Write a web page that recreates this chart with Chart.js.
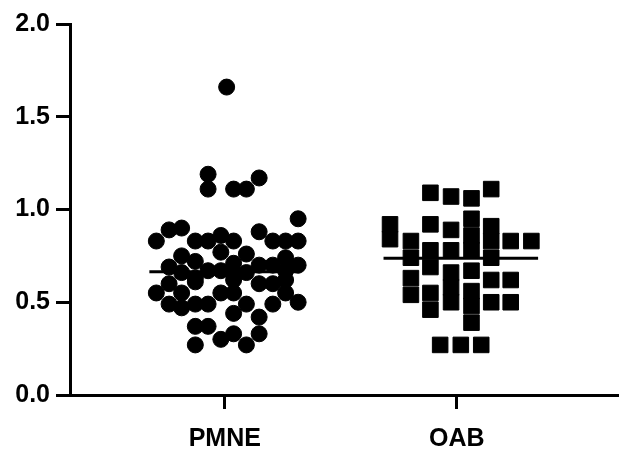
<!DOCTYPE html>
<html>
<head>
<meta charset="utf-8">
<script src="https://cdn.jsdelivr.net/npm/chart.js@4"></script>
<style>
html,body{margin:0;padding:0;background:#fff;}
#wrap{width:629px;height:451px;}
</style>
</head>
<body>
<div id="wrap"><canvas id="c" width="629" height="451"></canvas></div>
<script>
// Categories and tick labels
const categories = ['PMNE', 'OAB'];
const yTicks = [0, 0.5, 1.0, 1.5, 2.0];

// PMNE values and their horizontal scatter offsets (category units)
const pmneValues = [1.66, 1.19, 1.11, 1.17, 1.11, 1.11, 0.95,
  0.83, 0.89, 0.90, 0.83, 0.83, 0.86, 0.83, 0.88, 0.83, 0.83, 0.83,
  0.77, 0.75, 0.72, 0.76, 0.74, 0.69, 0.71, 0.70,
  0.66, 0.63, 0.67, 0.67, 0.66, 0.66, 0.70, 0.70, 0.67,
  0.60, 0.61, 0.62, 0.60, 0.60, 0.62,
  0.55, 0.55, 0.55, 0.55, 0.55,
  0.49, 0.49, 0.49, 0.49, 0.49, 0.50, 0.47,
  0.44, 0.42, 0.37, 0.37, 0.30, 0.33, 0.33, 0.27, 0.27];
const pmneJitter = [0.008, -0.072, -0.072, 0.148, 0.038, 0.093, 0.316,
  -0.295, -0.24, -0.186, -0.127, -0.072, -0.017, 0.038, 0.148, 0.207, 0.262, 0.316,
  -0.017, -0.186, -0.127, 0.093, 0.262, -0.24, 0.038, 0.316,
  -0.186, -0.127, -0.072, -0.017, 0.038, 0.093, 0.148, 0.207, 0.262,
  -0.24, -0.127, 0.038, 0.148, 0.207, 0.262,
  -0.295, -0.186, -0.017, 0.038, 0.262,
  -0.24, -0.127, -0.072, 0.093, 0.207, 0.316, -0.186,
  0.038, 0.148, -0.127, -0.072, -0.017, 0.038, 0.148, -0.127, 0.093];

// OAB values and their horizontal scatter offsets (category units)
const oabValues = [0.92, 0.84,
  0.83, 0.74, 0.63, 0.54,
  1.09, 0.92, 0.78, 0.69, 0.55, 0.46,
  0.27,
  1.07, 0.89, 0.78, 0.66, 0.58, 0.50,
  0.27,
  1.06, 0.95, 0.86, 0.78, 0.67, 0.56, 0.48, 0.39,
  0.27,
  1.11, 0.91, 0.83, 0.74, 0.62, 0.50,
  0.83, 0.62, 0.50,
  0.83];
const oabJitter = [-0.288, -0.288,
  -0.198, -0.198, -0.198, -0.198,
  -0.114, -0.114, -0.114, -0.114, -0.114, -0.114,
  -0.072,
  -0.025, -0.025, -0.025, -0.025, -0.025, -0.025,
  0.017,
  0.063, 0.063, 0.063, 0.063, 0.063, 0.063, 0.063, 0.063,
  0.105,
  0.148, 0.148, 0.148, 0.148, 0.148, 0.148,
  0.232, 0.232, 0.232,
  0.321];

// Medians and the extent of the median bars (category units)
const medians = [0.665, 0.737];
const medianSpan = [[-0.325, 0.325], [-0.316, 0.35]];

const pmnePts = pmneValues.map((v, i) => ({x: 1 + pmneJitter[i], y: v}));
const oabPts = oabValues.map((v, i) => ({x: 2 + oabJitter[i], y: v}));
const medianSets = medians.map((m, i) => ({
  type: 'line',
  data: [{x: i + 1 + medianSpan[i][0], y: m}, {x: i + 1 + medianSpan[i][1], y: m}],
  borderColor: '#000', borderWidth: 3, pointRadius: 0, showLine: true, order: 0
}));

const font = {family: '"Liberation Sans", Arial, sans-serif', size: 25, weight: 'bold'};

new Chart(document.getElementById('c'), {
  type: 'scatter',
  data: {
    datasets: [
      {data: pmnePts, pointStyle: 'circle', pointRadius: 8, backgroundColor: '#000', borderColor: '#000', borderWidth: 1, order: 1},
      {data: oabPts, pointStyle: 'rect', pointRadius: 11, backgroundColor: '#000', borderColor: '#000', borderWidth: 1, order: 1},
      ...medianSets
    ]
  },
  options: {
    responsive: false,
    animation: false,
    devicePixelRatio: 1,
    layout: {padding: {top: 24, right: 0, left: 0, bottom: 0}},
    plugins: {legend: {display: false}, tooltip: {enabled: false}},
    scales: {
      x: {
        type: 'linear', min: 0.333, max: 2.69,
        afterBuildTicks: s => { s.ticks = categories.map((c, i) => ({value: i + 1})); },
        afterFit: s => { s.height = 56; },
        ticks: {callback: v => categories[Math.round(v) - 1] || '', color: '#000', font: font, padding: 15, maxRotation: 0, autoSkip: false},
        grid: {drawOnChartArea: false, drawTicks: true, tickLength: 14, color: '#000', lineWidth: 3},
        border: {color: '#000', width: 3}
      },
      y: {
        min: 0, max: 2,
        afterBuildTicks: s => { s.ticks = yTicks.map(v => ({value: v})); },
        afterFit: s => { s.width = 70; },
        ticks: {callback: v => Number(v).toFixed(1), color: '#000', font: font, padding: 6},
        grid: {drawOnChartArea: false, drawTicks: true, tickLength: 14, color: '#000', lineWidth: 3},
        border: {color: '#000', width: 3}
      }
    }
  }
});
</script>
</body>
</html>
